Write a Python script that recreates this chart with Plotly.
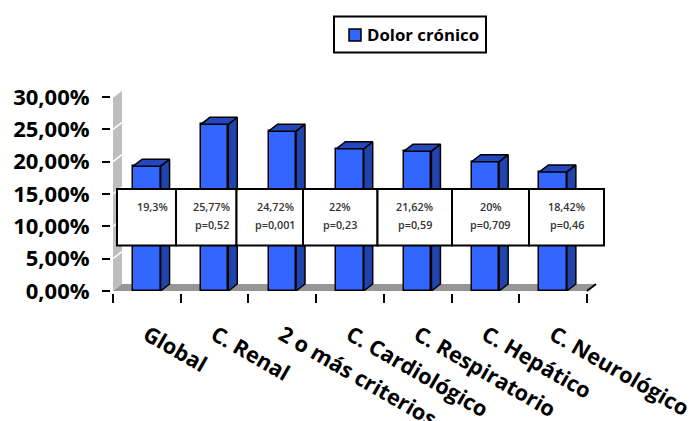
import plotly.graph_objects as go

categories = ["Global", "C. Renal", "2 o más criterios", "C. Cardiológico",
              "C. Respiratorio", "C. Hepático", "C. Neurológico"]
values = [19.3, 25.77, 24.72, 22, 21.62, 20, 18.42]
value_labels = ["19,3%", "25,77%", "24,72%", "22%", "21,62%", "20%", "18,42%"]
p_labels = ["", "p=0,52", "p=0,001", "p=0,23", "p=0,59", "p=0,709", "p=0,46"]
y_ticks = [0, 5, 10, 15, 20, 25, 30]
y_tick_labels = ["0,00%", "5,00%", "10,00%", "15,00%", "20,00%", "25,00%", "30,00%"]
series_name = "Dolor crónico"

W, H = 690, 421
L, R, T, B = 113, 587, 97, 291
BAR_W = 0.405
DEPTH_X, DEPTH_Y = 9, 7     # oblique depth in pixels
DX = DEPTH_X / ((R - L) / 7)
DY = DEPTH_Y / ((B - T) / 30)

# Pixel edges and text centres of the boxed value table
CELL_EDGES = [117, 176, 236.5, 303, 377.5, 452, 529, 604]
TEXT_X = [152, 211.5, 275.5, 340, 414.5, 490.5, 566.5]
TABLE_TOP, TABLE_BOTTOM = 189, 245.5

# Paper coordinates are relative to the plot area
px = lambda x: (x - L) / (R - L)
py = lambda y: (B - y) / (B - T)

FRONT, SIDE, TOP = "#3366ff", "#2143ac", "#2447bd"
WALL, FLOOR = "#bebebe", "#969696"


def face(xs, ys, color, z):
    return go.Scatter(
        x=xs, y=ys, mode="lines", fill="toself", fillcolor=color,
        line=dict(color="black", width=1.5),
        hoverinfo="skip", showlegend=False, cliponaxis=False, zorder=z,
    )


def rect(x0, x1, y0, y1, fill, width=2):
    return dict(type="rect", xref="paper", yref="paper", layer="above",
                x0=px(x0), x1=px(x1), y0=py(y1), y1=py(y0),
                fillcolor=fill, line=dict(color="black", width=width))


def polygon(points, fill):
    path = "M " + " L ".join(f"{px(x)} {py(y)}" for x, y in points) + " Z"
    return dict(type="path", path=path, xref="paper", yref="paper", layer="below",
                fillcolor=fill, line=dict(width=0))


def segment(x0, y0, x1, y1, color, width):
    return dict(type="line", xref="paper", yref="paper", layer="below",
                x0=px(x0), y0=py(y0), x1=px(x1), y1=py(y1),
                line=dict(color=color, width=width))


fig = go.Figure()

# Bars: front face from the bar trace, side and top faces offset from each value
fig.add_trace(go.Bar(
    x=[i + 0.5 for i in range(7)], y=values, width=BAR_W, name=series_name,
    marker=dict(color=FRONT, line=dict(color="black", width=1.5)),
    zorder=1, cliponaxis=False, showlegend=False,
))
for i, v in enumerate(values):
    x0, x1 = i + 0.5 - BAR_W / 2, i + 0.5 + BAR_W / 2
    fig.add_trace(face([x1, x1 + DX, x1 + DX, x1, x1], [0, DY, v + DY, v, 0], SIDE, 2))
    fig.add_trace(face([x0, x0 + DX, x1 + DX, x1, x0], [v, v + DY, v + DY, v, v], TOP, 2))

# Side wall and floor of the oblique chart box
shapes = [
    polygon([(L, T), (L + DEPTH_X, T - DEPTH_Y), (L + DEPTH_X, B - DEPTH_Y), (L, B)], WALL),
    polygon([(L, B), (L + DEPTH_X, B - DEPTH_Y), (R + DEPTH_X, B - DEPTH_Y), (R, B)], FLOOR),
    segment(R, B, R + DEPTH_X, B - DEPTH_Y, "black", 2),
]
for t in y_ticks[1:]:
    y = B - (B - T) * t / 30
    shapes.append(segment(L, y, L + DEPTH_X, y - DEPTH_Y, "white", 1.5))

# Boxed table with percentages and p-values
annotations = []
for a, b in zip(CELL_EDGES[:-1], CELL_EDGES[1:]):
    shapes.append(rect(a, b, TABLE_TOP, TABLE_BOTTOM, "white"))
for x, v, p in zip(TEXT_X, value_labels, p_labels):
    for text, y in ((v, 206), (p, 224)):
        if text:
            annotations.append(dict(text=text, xref="paper", yref="paper",
                                    x=px(x), y=py(y), showarrow=False,
                                    xanchor="center", yanchor="middle",
                                    font=dict(family="Open Sans", size=10.8,
                                              color="#333333", weight=600)))

# Series key in its own frame above the plot
shapes.append(rect(334, 486, 16.5, 52.5, "white"))
shapes.append(rect(349, 361, 29, 41, FRONT, width=1.5))
annotations.append(dict(text=series_name, xref="paper", yref="paper", x=px(365), y=py(34.5),
                        showarrow=False, xanchor="left", yanchor="middle",
                        font=dict(family="Open Sans", size=16.8, color="black", weight="bold")))

fig.update_layout(
    width=W, height=H, autosize=False, paper_bgcolor="white", plot_bgcolor="rgba(0,0,0,0)",
    margin=dict(l=L, r=W - R, t=T, b=H - B, pad=0, autoexpand=False),
    bargap=0, shapes=shapes, annotations=annotations, showlegend=False,
    xaxis=dict(range=[0, 7], tickmode="array", tickvals=[i + 0.5 for i in range(7)],
               ticktext=categories, ticks="", tickangle=30, showgrid=False, zeroline=False,
               showline=True, linecolor="black", linewidth=3, automargin=False,
               ticklabelstandoff=20, ticklabeloverflow="allow",
               tickfont=dict(family="Open Sans", size=21.6, color="black", weight="bold"),
               minor=dict(tickmode="array", tickvals=list(range(8)), ticks="outside",
                          ticklen=9, tickwidth=2, tickcolor="black", showgrid=False)),
    yaxis=dict(range=[0, 30], tickmode="array", tickvals=y_ticks, ticktext=y_tick_labels,
               ticks="outside", ticklen=8, tickwidth=2, tickcolor="black", showgrid=False,
               zeroline=False, showline=True, linecolor="black", linewidth=3, automargin=False,
               ticklabelstandoff=8,
               tickfont=dict(family="Open Sans", size=22, color="black", weight="bold")),
)

fig.write_html("out.html")
